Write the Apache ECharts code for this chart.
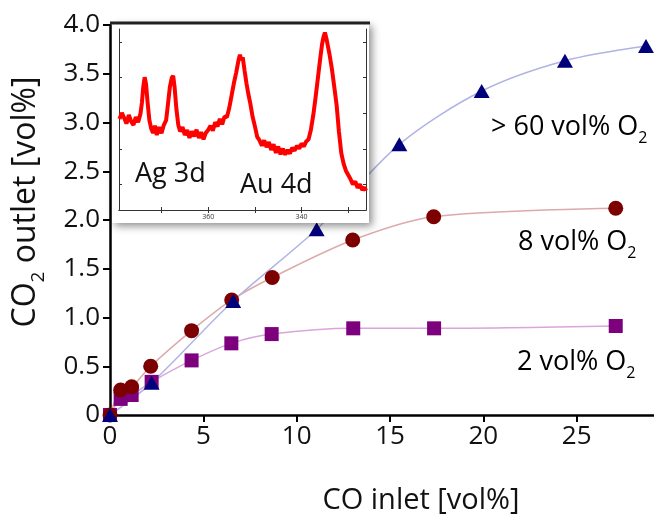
<!DOCTYPE html>
<html>
<head>
<meta charset="utf-8">
<title>CO2 outlet vs CO inlet</title>
<script src="https://cdn.jsdelivr.net/npm/echarts@6/dist/echarts.min.js"></script>
<style>
  html, body { margin: 0; padding: 0; background: #fff; }
  #chart { width: 654px; height: 521px; }
</style>
</head>
<body>
<div id="chart"></div>
<script>
var FONT = 'Open Sans';

// main plot: CO inlet [vol%] vs CO2 outlet [vol%]
var xTicks = [0, 5, 10, 15, 20, 25];

var highX = [0, 2.23, 6.6, 11.07, 15.5, 19.91, 24.37, 28.71];
var highY = [0, 0.33, 1.17, 1.905, 2.776, 3.323, 3.634, 3.785];

var midX = [0, 0.57, 1.16, 2.18, 4.37, 6.52, 8.69, 13.0, 17.34, 27.09];
var midY = [0, 0.256, 0.29, 0.50, 0.865, 1.18, 1.41, 1.795, 2.034, 2.12];

var lowX = [0, 0.57, 1.16, 2.23, 4.37, 6.5, 8.66, 13.03, 17.36, 27.09];
var lowY = [0, 0.165, 0.205, 0.34, 0.56, 0.735, 0.83, 0.889, 0.889, 0.913];

// inset: XPS spectrum, binding energy [eV] vs intensity [a.u.]
var specEv = [379.0, 378.5, 378.0, 377.5, 377.0, 376.5, 376.0, 375.5, 375.0, 374.5,
  374.2, 373.9, 373.6, 373.3, 373.0, 372.6, 372.2, 371.8, 371.4, 371.0,
  370.5, 370.0, 369.5, 369.0, 368.6, 368.2, 367.8, 367.5, 367.2, 366.8,
  366.4, 366.0, 365.5, 365.0, 364.5, 364.0, 363.5, 363.0, 362.5, 362.0,
  361.5, 361.0, 360.5, 360.0, 359.5, 359.0, 358.5, 358.0, 357.5, 357.0,
  356.5, 356.0, 355.5, 355.0, 354.5, 354.0, 353.5, 353.2, 352.9, 352.6,
  352.2, 351.8, 351.4, 351.0, 350.5, 350.0, 349.5, 349.0, 348.5, 348.0,
  347.5, 347.0, 346.5, 346.0, 345.5, 345.0, 344.5, 344.0, 343.5, 343.0,
  342.5, 342.0, 341.5, 341.0, 340.5, 340.0, 339.5, 339.0, 338.5, 338.0,
  337.5, 337.0, 336.5, 336.0, 335.6, 335.3, 335.0, 334.7, 334.4, 334.0,
  333.5, 333.0, 332.5, 332.0, 331.5, 331.0, 330.5, 330.0, 329.5, 329.0,
  328.5, 328.0, 327.5, 327.0, 326.5, 326.2];
var specInt = [2.55, 2.72, 2.58, 2.42, 2.66, 2.48, 2.38, 2.60, 2.46, 2.70,
  3.00, 3.45, 3.72, 3.52, 3.05, 2.52, 2.28, 2.16, 2.36, 2.10,
  2.32, 2.15, 2.38, 2.52, 2.98, 3.45, 3.70, 3.76, 3.45, 2.82,
  2.38, 2.20, 2.32, 2.10, 2.24, 2.02, 2.20, 2.06, 2.25, 2.02,
  2.18, 1.98, 2.16, 2.24, 2.36, 2.22, 2.46, 2.34, 2.55, 2.40,
  2.62, 2.60, 2.85, 3.20, 3.55, 3.85, 4.20, 4.35, 4.20, 4.28,
  3.90, 3.55, 3.25, 3.00, 2.62, 2.35, 2.05, 1.95, 1.80, 1.95,
  1.76, 1.90, 1.68, 1.84, 1.60, 1.78, 1.56, 1.72, 1.55, 1.68,
  1.58, 1.74, 1.66, 1.80, 1.72, 1.86, 1.78, 1.92, 1.98, 2.25,
  2.65, 3.15, 3.70, 4.25, 4.65, 4.85, 4.97, 4.82, 4.62, 4.35,
  3.95, 3.45, 2.95, 2.20, 1.60, 1.30, 1.10, 0.98, 0.86, 0.72,
  0.80, 0.62, 0.72, 0.56, 0.64, 0.54];
var insetXTicks = [330, 340, 350, 360, 370];
var insetXLabels = [340, 360];
var insetYTicks = [0.71, 1.71, 2.71, 3.71, 4.71];

function zip(xs, ys) {
  return xs.map(function (x, i) { return [x, ys[i]]; });
}

var chart = echarts.init(document.getElementById('chart'));

var subRich = function (size, color) {
  return {
    a: { fontFamily: FONT, fontSize: size, lineHeight: size + 6, verticalAlign: 'top', color: color },
    s: { fontFamily: FONT, fontSize: Math.round(size * 0.6), verticalAlign: 'bottom', color: color }
  };
};

var option = {
  animation: false,
  backgroundColor: '#fff',
  grid: [
    { left: 110, top: 25, right: 0, bottom: 106 },
    { left: 119, top: 29, width: 247, height: 181, z: 10 }
  ],
  xAxis: [
    {
      type: 'value', gridIndex: 0, min: 0, max: 29.14,
      name: 'CO inlet [vol%]', nameLocation: 'middle', nameGap: 71,
      nameTextStyle: { fontFamily: FONT, fontSize: 29, color: '#111', padding: [0, 0, 0, 78] },
      axisLine: { lineStyle: { color: '#000', width: 2.5 } },
      axisTick: { length: 7, lineStyle: { color: '#000', width: 2 }, customValues: xTicks },
      axisLabel: { fontFamily: FONT, fontSize: 26, color: '#111', margin: 9, customValues: xTicks },
      splitLine: { show: false }
    },
    {
      type: 'value', gridIndex: 1, min: 326.2, max: 379.1, inverse: true, z: 10,
      axisLine: { lineStyle: { color: '#333', width: 1 } },
      axisTick: { inside: true, length: 3, lineStyle: { color: '#333' }, customValues: insetXTicks },
      axisLabel: { fontFamily: FONT, fontSize: 7, color: '#333', margin: 3, customValues: insetXLabels },
      splitLine: { show: false }
    },
    {
      type: 'value', gridIndex: 1, position: 'top', min: 326.2, max: 379.1, inverse: true, z: 10,
      axisLine: { lineStyle: { color: '#333', width: 1 } },
      axisTick: { inside: true, length: 3, lineStyle: { color: '#333' }, customValues: insetXTicks },
      axisLabel: { show: false },
      splitLine: { show: false }
    }
  ],
  yAxis: [
    {
      type: 'value', gridIndex: 0, min: 0, max: 4, interval: 0.5,
      name: '{a|CO}{s|2}{a| outlet [vol%]}', nameLocation: 'middle', nameGap: 62,
      nameTextStyle: { padding: [0, 0, 0, 36], rich: subRich(32, '#111') },
      axisLine: { lineStyle: { color: '#000', width: 2.5 } },
      axisTick: { length: 7, lineStyle: { color: '#000', width: 2 } },
      axisLabel: {
        fontFamily: FONT, fontSize: 26, color: '#111', margin: 10,
        formatter: function (v) { return v === 0 ? '0' : v.toFixed(1); }
      },
      splitLine: { show: false }
    },
    {
      type: 'value', gridIndex: 1, min: 0, max: 5.07, z: 10,
      axisLine: { lineStyle: { color: '#333', width: 1 } },
      axisTick: { inside: true, length: 3, lineStyle: { color: '#333' }, customValues: insetYTicks },
      axisLabel: { show: false },
      splitLine: { show: false }
    },
    {
      type: 'value', gridIndex: 1, position: 'right', min: 0, max: 5.07, z: 10,
      axisLine: { lineStyle: { color: '#333', width: 1 } },
      axisTick: { inside: true, length: 3, lineStyle: { color: '#333' }, customValues: insetYTicks },
      axisLabel: { show: false },
      splitLine: { show: false }
    }
  ],
  series: [
    {
      name: '2 vol% O2', type: 'line', xAxisIndex: 0, yAxisIndex: 0, smooth: 0.3,
      data: zip(lowX, lowY), symbol: 'rect', symbolSize: 14,
      itemStyle: { color: '#7d007d' },
      lineStyle: { color: '#d8a6dc', width: 1.5 }
    },
    {
      name: '8 vol% O2', type: 'line', xAxisIndex: 0, yAxisIndex: 0, smooth: 0.3,
      data: zip(midX, midY), symbol: 'circle', symbolSize: 15,
      itemStyle: { color: '#7d0000' },
      lineStyle: { color: '#dcaaaa', width: 1.5 }
    },
    {
      name: '> 60 vol% O2', type: 'line', xAxisIndex: 0, yAxisIndex: 0, smooth: 0.3,
      data: zip(highX, highY), symbol: 'triangle', symbolSize: [16, 14],
      itemStyle: { color: '#00007d' },
      lineStyle: { color: '#b0b4e4', width: 1.5 }
    },
    {
      name: 'XPS', type: 'line', xAxisIndex: 1, yAxisIndex: 1, z: 11,
      data: zip(specEv, specInt), showSymbol: false,
      lineStyle: { color: '#ff0000', width: 4, join: 'bevel' }
    }
  ],
  graphic: [
    {
      type: 'rect', z: 5,
      shape: { x: 112, y: 23, width: 257, height: 200 },
      style: { fill: '#fff', shadowBlur: 8, shadowOffsetX: 3, shadowOffsetY: 3, shadowColor: 'rgba(0,0,0,0.45)' }
    },
    {
      type: 'line', z: 6,
      shape: { x1: 110, y1: 23, x2: 370, y2: 23 },
      style: { stroke: '#222', lineWidth: 3 }
    },
    {
      type: 'text', z: 12, x: 135, y: 174,
      style: { text: 'Ag 3d', fontFamily: FONT, fontSize: 27, fill: '#111', verticalAlign: 'middle' }
    },
    {
      type: 'text', z: 12, x: 240, y: 185,
      style: { text: 'Au 4d', fontFamily: FONT, fontSize: 27, fill: '#111', verticalAlign: 'middle' }
    },
    {
      type: 'text', z: 12, x: 491, y: 130,
      style: { text: '{a|> 60 vol% O}{s|2}', verticalAlign: 'middle', rich: subRich(27, '#1b2c9b') }
    },
    {
      type: 'text', z: 12, x: 518, y: 245,
      style: { text: '{a|8 vol% O}{s|2}', verticalAlign: 'middle', rich: subRich(27, '#a31e22') }
    },
    {
      type: 'text', z: 12, x: 517, y: 365,
      style: { text: '{a|2 vol% O}{s|2}', verticalAlign: 'middle', rich: subRich(27, '#8f2f8f') }
    }
  ]
};

chart.setOption(option);
</script>
</body>
</html>
